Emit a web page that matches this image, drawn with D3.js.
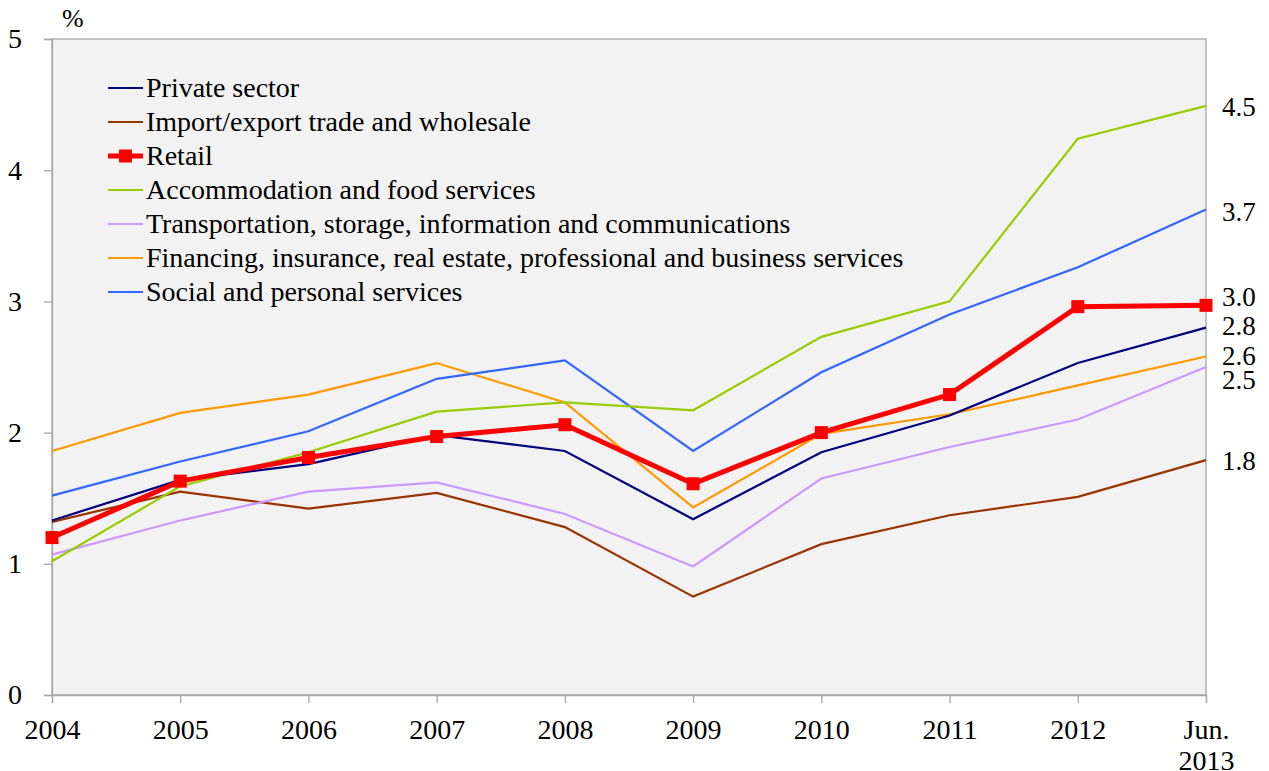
<!DOCTYPE html>
<html>
<head>
<meta charset="utf-8">
<script src="https://cdn.jsdelivr.net/npm/d3@7"></script>
<style>
  html, body { margin: 0; padding: 0; background: #ffffff; }
  svg text { font-family: "Liberation Serif", "Times New Roman", serif; fill: #000; }
</style>
</head>
<body>
<svg id="chart" width="1269" height="771"></svg>
<script>
// ---- data ----
const categories = ["2004","2005","2006","2007","2008","2009","2010","2011","2012","Jun. 2013"];
const seriesNames = [
  "Private sector",
  "Import/export trade and wholesale",
  "Retail",
  "Accommodation and food services",
  "Transportation, storage, information and communications",
  "Financing, insurance, real estate, professional and business services",
  "Social and personal services"
];
const privateSector   = [1.33, 1.64, 1.76, 1.98, 1.86, 1.34, 1.85, 2.13, 2.53, 2.80];
const importExport    = [1.32, 1.55, 1.42, 1.54, 1.28, 0.75, 1.15, 1.37, 1.51, 1.79];
const retail          = [1.20, 1.63, 1.81, 1.97, 2.06, 1.61, 2.00, 2.29, 2.96, 2.97];
const accommodation   = [1.02, 1.59, 1.85, 2.16, 2.23, 2.17, 2.73, 3.00, 4.24, 4.49];
const transportation  = [1.07, 1.33, 1.55, 1.62, 1.38, 0.98, 1.65, 1.89, 2.10, 2.50];
const financing       = [1.86, 2.15, 2.29, 2.53, 2.23, 1.43, 1.99, 2.14, 2.36, 2.58];
const social          = [1.52, 1.78, 2.01, 2.41, 2.55, 1.86, 2.46, 2.90, 3.26, 3.70];
const endLabels       = ["2.8", "1.8", "3.0", "4.5", "2.5", "2.6", "3.7"];
const yTicks          = [0, 1, 2, 3, 4, 5];
const yUnit           = "%";

const seriesValues = [privateSector, importExport, retail, accommodation, transportation, financing, social];
const colors = ["#000080", "#993300", "#ff0000", "#99cc00", "#cc99ff", "#ff9900", "#3366ff"];
// pixel nudges for end labels to avoid overlap (style, not data)
const labelNudge = [-2, 0, -9, 1, 13, -1, 2];

// ---- layout ----
const svg = d3.select("#chart");
const L = 52, R = 1206, T = 39, B = 695;
const FS = "28px";

const x = d3.scalePoint().domain(categories).range([L, R]).padding(0);
const y = d3.scaleLinear().domain([0, 5]).range([B, T]);

// plot background
svg.append("rect")
  .attr("x", L).attr("y", T).attr("width", R - L).attr("height", B - T)
  .attr("fill", "#f2f2f2").attr("stroke", "#a6a6a6").attr("stroke-width", 1.3);

// y axis
const yAxis = svg.append("g").attr("transform", `translate(${L},0)`)
  .call(d3.axisLeft(y).tickValues(yTicks).tickFormat(d3.format("d")).tickSize(8).tickPadding(22));
yAxis.select(".domain").attr("stroke", "#a6a6a6").attr("stroke-width", 1.3);
yAxis.selectAll(".tick line").attr("stroke", "#a6a6a6").attr("stroke-width", 1.3);
yAxis.selectAll(".tick text").style("font-size", FS).style("font-family", "Liberation Serif").attr("fill", "#000");

// x axis
const xAxis = svg.append("g").attr("transform", `translate(0,${B})`)
  .call(d3.axisBottom(x).tickSize(8).tickPadding(12).tickFormat(""));
xAxis.select(".domain").attr("stroke", "#a6a6a6").attr("stroke-width", 1.3);
xAxis.selectAll(".tick line").attr("stroke", "#a6a6a6").attr("stroke-width", 1.3);
xAxis.selectAll(".tick").each(function(d) {
  const parts = d.split(" ");
  const t = d3.select(this).append("text")
    .attr("text-anchor", "middle")
    .style("font-size", FS).style("font-family", "Liberation Serif").attr("fill", "#000");
  parts.forEach((p, i) => {
    t.append("tspan").attr("x", 0).attr("y", 44 + i * 31).text(p);
  });
});

// unit label
svg.append("text").attr("x", 62).attr("y", 27).style("font-size", "26px").text(yUnit);

// lines
const line = d3.line().x((d, i) => x(categories[i])).y(d => y(d));
const order = [1, 4, 5, 6, 3, 0, 2];
order.forEach(si => {
  const isRetail = si === 2;
  svg.append("path")
    .datum(seriesValues[si])
    .attr("d", line)
    .attr("fill", "none")
    .attr("stroke", colors[si])
    .attr("stroke-width", isRetail ? 5 : 2.2)
    .attr("stroke-linejoin", "miter");
  if (isRetail) {
    svg.selectAll(".rmark").data(seriesValues[si]).enter().append("rect")
      .attr("class", "rmark")
      .attr("x", (d, i) => x(categories[i]) - 6.5)
      .attr("y", d => y(d) - 6.5)
      .attr("width", 13).attr("height", 13)
      .attr("fill", colors[si]);
  }
});

// end labels
const lastIdx = categories.length - 1;
seriesValues.forEach((s, i) => {
  svg.append("text").attr("x", R + 16).attr("y", y(s[lastIdx]) + labelNudge[i]).attr("dy", "0.35em")
    .style("font-size", "27px").text(endLabels[i]);
});

// legend
const legend = svg.append("g");
seriesNames.forEach((name, i) => {
  const ly = 88 + i * 34;
  const isRetail = i === 2;
  legend.append("line").attr("x1", 108).attr("x2", 143).attr("y1", ly).attr("y2", ly)
    .attr("stroke", colors[i]).attr("stroke-width", isRetail ? 5 : 2.2);
  if (isRetail) {
    legend.append("rect").attr("x", 119).attr("y", ly - 6.5).attr("width", 13).attr("height", 13).attr("fill", colors[i]);
  }
  legend.append("text").attr("x", 146).attr("y", ly).attr("dy", "0.33em")
    .style("font-size", FS).text(name);
});
</script>
</body>
</html>
